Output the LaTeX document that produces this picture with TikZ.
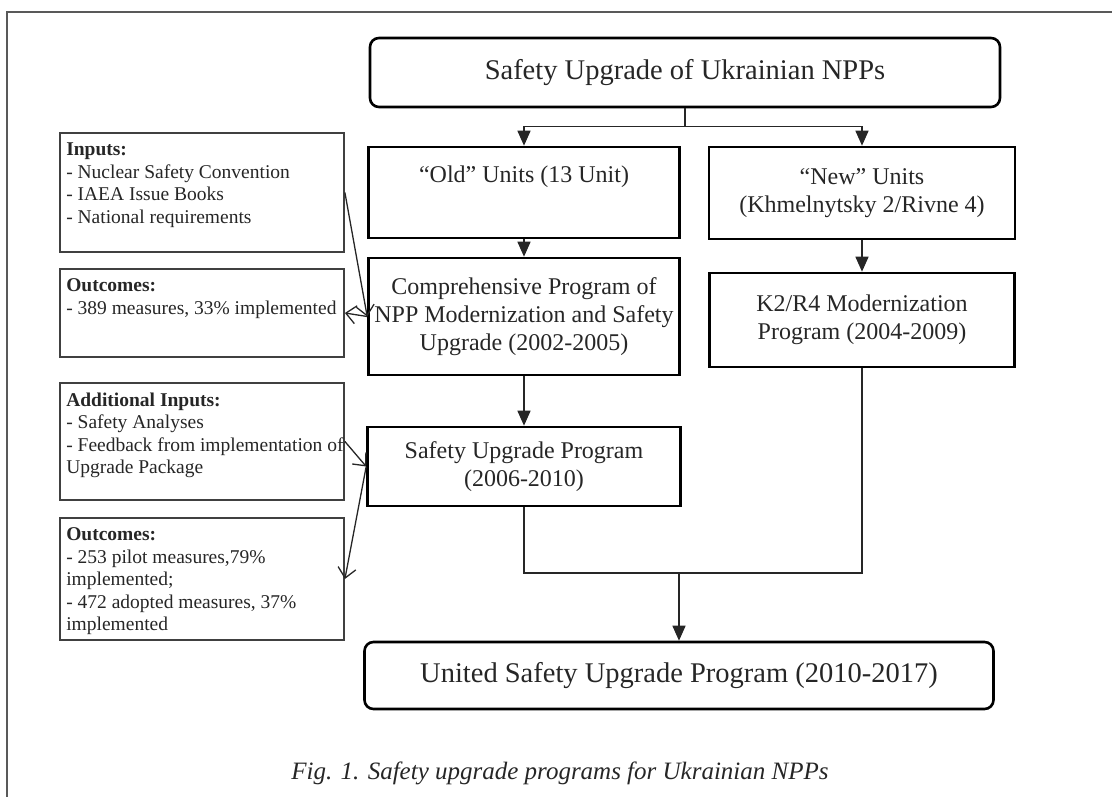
\documentclass[tikz,border=0pt]{standalone}
\usepackage{fontspec}
\setmainfont{Liberation Serif}
\usetikzlibrary{arrows.meta}
\begin{document}
\begin{tikzpicture}[x=1pt,y=-1pt,
  box/.style={draw=black, line width=2.6pt, align=center, inner sep=0pt,
    font=\fontsize{24}{28}\selectfont, text=black!85},
  rbox/.style={box, rounded corners=9pt, font=\fontsize{28.5}{32}\selectfont},
  sbox/.style={draw=black!75, line width=1.8pt, inner sep=0pt, minimum width=284pt},
  stext/.style={anchor=north west, align=left, inner xsep=7pt, inner ysep=10.5pt,
    font=\fontsize{19.5}{22.5}\selectfont, text=black!85},
  flow/.style={draw=black!85, line width=1.5pt},
  arr/.style={flow, -{Triangle[length=15pt,width=13pt]}},
  barb/.style={draw=black!85, line width=1.3pt, -{Straight Barb[length=10pt,width=18pt,line width=1.3pt]}},
  frame/.style={draw=black!65, line width=1.3pt}
]
\useasboundingbox (0,0) rectangle (1112,797);
\draw[frame] (7,797) -- (7,12) -- (1112,12);

% main flow boxes
\node[rbox, minimum width=630pt, minimum height=69pt] (top) at (685,72.5) {Safety Upgrade of Ukrainian NPPs};
\node[box, minimum width=311pt, minimum height=91pt] (old) at (524,192.5) {“Old” Units (13 Unit)\\ \strut};
\node[box, minimum width=306pt, minimum height=92pt] (new) at (862,193) {“New” Units\\(Khmelnytsky 2/Rivne 4)};
\node[box, minimum width=311pt, minimum height=117pt] (comp) at (524,316.5) {Comprehensive Program of\\NPP Modernization and Safety\\Upgrade (2002-2005)};
\node[box, minimum width=305pt, minimum height=94pt] (k2) at (862,320) {K2/R4 Modernization\\Program (2004-2009)};
\node[box, minimum width=313pt, minimum height=79pt] (sup) at (524,466.5) {Safety Upgrade Program\\(2006-2010)};
\node[rbox, minimum width=629pt, minimum height=67pt] (usp) at (679,675.5) {United Safety Upgrade Program (2010-2017)};

% side boxes
\node[sbox, minimum height=119pt] (in1) at (202,192.5) {};
\node[stext] (in1t) at (in1.north west) {\textbf{Inputs:}\\- Nuclear Safety Convention\\- IAEA Issue Books\\- National requirements};
\node[sbox, minimum height=88pt] (out1) at (202,313) {};
\node[stext] (out1t) at (out1.north west) {\textbf{Outcomes:}\\- 389 measures, 33\% implemented};
\node[sbox, minimum height=117pt] (add) at (202,441.5) {};
\node[stext] (addt) at (add.north west) {\textbf{Additional Inputs:}\\- Safety Analyses\\- Feedback from implementation of\\Upgrade Package};
\node[sbox, minimum height=122pt] (out2) at (202,579) {};
\node[stext] (out2t) at (out2.north west) {\textbf{Outcomes:}\\- 253 pilot measures,79\%\\implemented;\\- 472 adopted measures, 37\%\\implemented};

% connectors
\draw[flow] (top.south) -- ++(0,18) coordinate (sp);
\draw[arr] (sp) -| (old.north);
\draw[arr] (sp) -| (new.north);
\draw[arr] (old.south) -- (comp.north);
\draw[arr] (new.south) -- (k2.north);
\draw[arr] (comp.south) -- (sup.north);
\coordinate (jn) at (679,573);
\draw[flow] (sup.south) -- (sup.south |- jn) -- (k2.south |- jn) -- (k2.south);
\draw[arr] (jn) -- (usp.north);

\draw[barb] (in1.east) -- (comp.west);
\draw[barb] (comp.west) -- (out1.east);
\draw[barb] (add.east) -- (sup.west);
\draw[barb] (sup.west) -- (out2.east);

% caption
\node[font=\fontsize{25}{30}\selectfont\itshape, text=black!85] (cap) at (560,773) {Fig. 1. Safety upgrade programs for Ukrainian NPPs};
\end{tikzpicture}
\end{document}
